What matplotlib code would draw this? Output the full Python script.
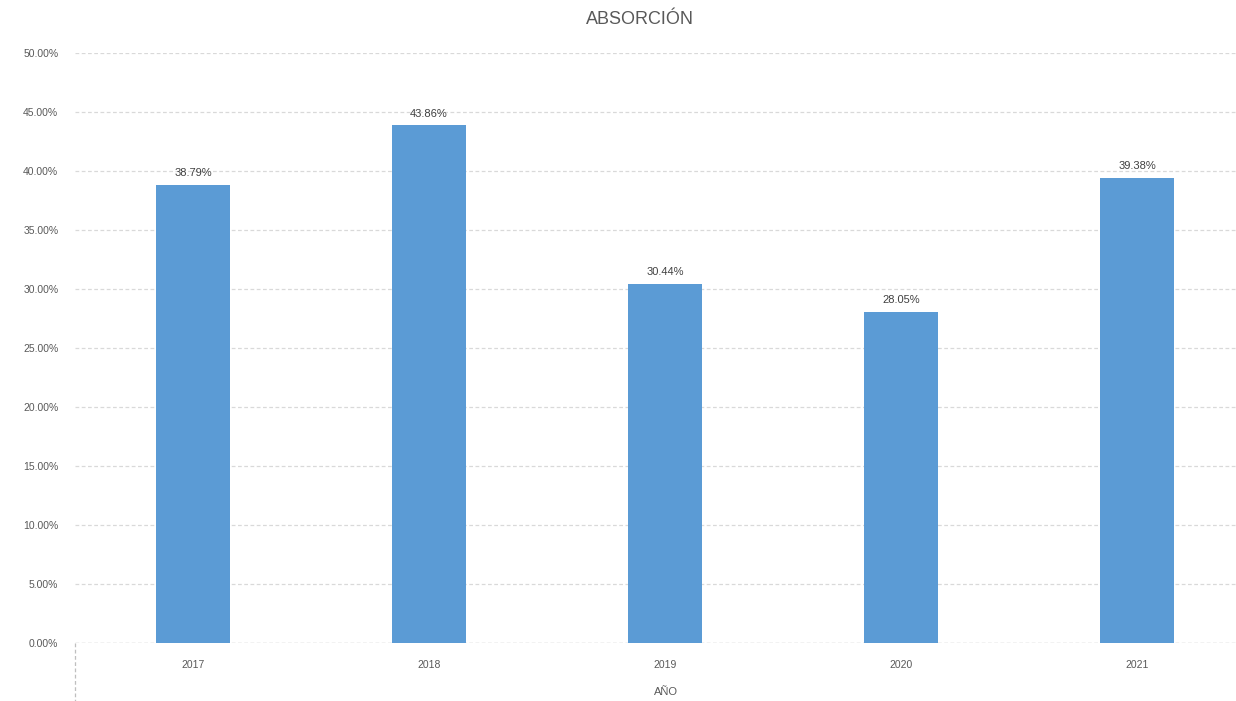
import matplotlib
matplotlib.use('Agg')
import matplotlib.pyplot as plt
from matplotlib.lines import Line2D

# data
years = ["2017", "2018", "2019", "2020", "2021"]
absorcion = [38.79, 43.86, 30.44, 28.05, 39.38]
value_labels = ["38.79%", "43.86%", "30.44%", "28.05%", "39.38%"]

bar_color = "#5B9BD5"
text_color = "#595959"
grid_color = "#D9D9D9"

plt.rcParams['font.family'] = ['Liberation Sans', 'DejaVu Sans']

fig = plt.figure(figsize=(12.36, 7.01), dpi=100)
# axes runs a bit past the right edge, like the cropped original
ax = fig.add_axes([75 / 1236, 58 / 701, 1180 / 1236, 590 / 701])

x = range(len(years))
bars = ax.bar(x, absorcion, width=0.315, color=bar_color, zorder=3)

for i, b in enumerate(bars):
    ax.annotate(value_labels[i], (b.get_x() + b.get_width() / 2, b.get_height()),
                xytext=(0, 5), textcoords="offset points",
                ha="center", va="bottom", fontsize=8, color="#404040")

ax.set_xlim(-0.5, len(years) - 0.5)
ax.set_ylim(0, 50)
ax.set_yticks([i * 5 for i in range(11)])
ax.set_yticklabels([f"{i * 5:.2f}%" for i in range(11)])
ax.set_xticks(list(x))
ax.set_xticklabels(years)

ax.grid(axis="y", color=grid_color, linestyle=(0, (3, 2)), linewidth=0.9, zorder=0)
for s in ax.spines.values():
    s.set_visible(False)
ax.tick_params(axis="both", length=0, labelsize=7.5, labelcolor=text_color)
ax.tick_params(axis="y", pad=12)
ax.tick_params(axis="x", pad=12)

# bottom axis line + vertical divider going down
ax.axhline(0, color="#BFBFBF", linestyle=(0, (3, 2)), linewidth=0.9, zorder=2)
ax.add_line(Line2D([0, 0], [0, -0.11], transform=ax.transAxes, color="#BFBFBF",
                   linestyle=(0, (3, 2)), linewidth=0.9, clip_on=False))

fig.text(666 / 1236, 1 - 692 / 701, "AÑO", ha="center", va="center",
         fontsize=8, color=text_color)
fig.text(640 / 1236, 1 - 20 / 701, "ABSORCIÓN", ha="center", va="center",
         fontsize=13, color=text_color)

fig.savefig("out.png", dpi=100)
